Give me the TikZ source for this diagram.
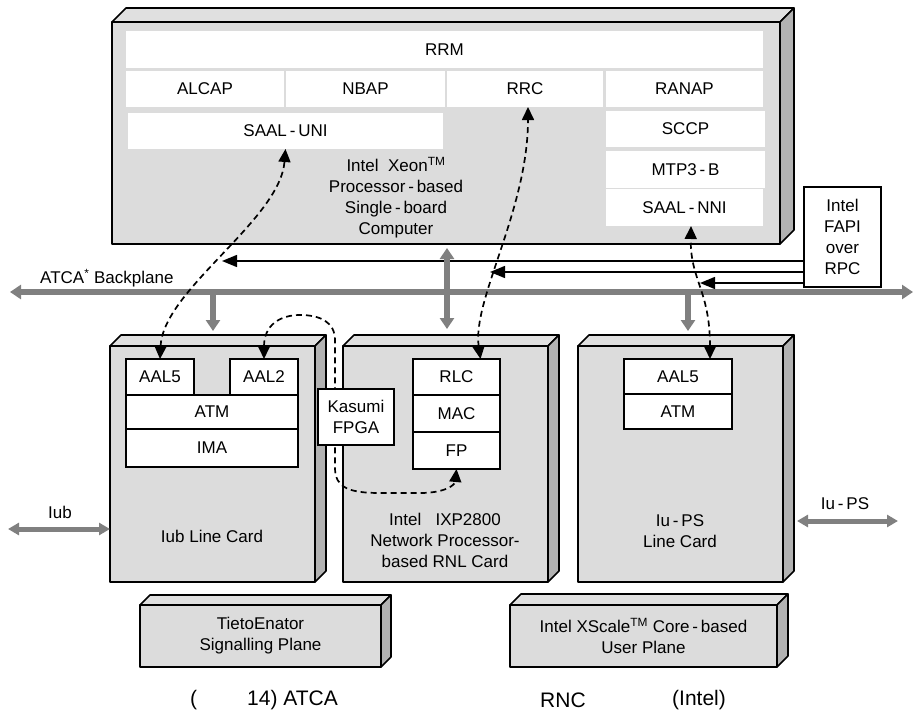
\documentclass[tikz,border=0pt]{standalone}
\usepackage{fontspec}
\setmainfont{Liberation Sans}
\usetikzlibrary{positioning, arrows.meta}

\definecolor{facegray}{HTML}{DCDCDC}
\definecolor{topgray}{HTML}{E0E0E0}
\definecolor{sidegray}{HTML}{B2B2B2}
\definecolor{linkgray}{HTML}{808080}

\tikzset{
  rim/.style={line width=1.6pt, line join=round},
  face/.style={rim, draw, fill=facegray, inner sep=0pt, outer sep=0pt},
  layer/.style={fill=white, inner sep=0pt, outer sep=0pt},
  cell/.style={draw, line width=1.4pt, fill=white, inner sep=0pt, outer sep=0pt},
  txt/.style={align=center, inner sep=0pt},
  bus/.style={draw=linkgray, line width=6pt, {Triangle[length=11pt,width=14pt]}-{Triangle[length=11pt,width=14pt]}},
  drop/.style={draw=linkgray, line width=6pt, -{Triangle[length=11pt,width=14pt]}},
  sidelink/.style={draw=linkgray, line width=5pt, {Triangle[length=11pt,width=12pt]}-{Triangle[length=11pt,width=12pt]}},
  ctrl/.style={line width=1.4pt, -{Triangle[length=15pt,width=12pt]}},
  sig/.style={line width=1.7pt, dash pattern=on 6pt off 4pt, {Triangle[length=13pt,width=12pt]}-{Triangle[length=13pt,width=12pt]}}
}

\begin{document}
\begin{tikzpicture}[x=1pt, y=-1pt, every node/.style={font=\fontsize{17}{21}\selectfont}]

        \useasboundingbox (0,0) rectangle (914,715);

        \newcommand{\bevelbox}[2]{%
            \draw[rim, fill=topgray] (#1.north west) -- ++(#2,-#2) -- ([shift={(#2,-#2)}]#1.north east) -- (#1.north east) -- cycle;
            \draw[rim, fill=sidegray] (#1.north east) -- ++(#2,-#2) -- ([shift={(#2,-#2)}]#1.south east) -- (#1.south east) -- cycle;
        }

        \node[face, minimum width=668, minimum height=222] (sbc) at (446,133) {};
        \bevelbox{sbc}{14}

        \node[layer, minimum width=637, minimum height=37] (rrm) at (444.5,49.5) {RRM};
        \node[layer, minimum width=158, minimum height=36] (alcap) at (205,89) {ALCAP};
        \node[layer, minimum width=159, minimum height=36] (nbap) at (365.5,89) {NBAP};
        \node[layer, minimum width=156, minimum height=36] (rrc) at (525,89) {RRC};
        \node[layer, minimum width=157, minimum height=36] (ranap) at (684.5,89) {RANAP};
        \node[layer, minimum width=315, minimum height=36] (saaluni) at (285.5,131) {SAAL\,-\,UNI};
        \node[layer, minimum width=159, minimum height=36] (sccp) at (685.5,129) {SCCP};
        \node[layer, minimum width=159, minimum height=37] (mtp) at (685.5,169.5) {MTP3\,-\,B};
        \node[layer, minimum width=157, minimum height=37] (saalnni) at (684.5,207.5) {SAAL\,-\,NNI};

        \node[txt] (xeon) at (396,198) {Intel\ \ Xeon\textsuperscript{TM}\\Processor\,-\,based\\Single\,-\,board\\Computer};

        \node[draw, line width=1.2pt, fill=white, txt, minimum width=77, minimum height=100] (fapi) at (842.5,237) {Intel\\FAPI\\over\\RPC};

        \coordinate (bpL) at (10,292);
        \coordinate (bpR) at (913,292);
        \draw[bus] (bpL) -- (bpR);
        \node[txt, anchor=west] (atca) at (40,278) {ATCA\textsuperscript{*} Backplane};

        \coordinate (cA) at (222,261);
        \coordinate (cB) at (490,272);
        \coordinate (cC) at (700,283);
        \draw[ctrl] (fapi.west |- cA) -- (cA);
        \draw[ctrl] (fapi.west |- cB) -- (cB);
        \draw[ctrl] (fapi.west |- cC) -- (cC);

        \node[face, minimum width=205, minimum height=236] (iubcard) at (212.5,464) {};
        \bevelbox{iubcard}{11}
        \node[face, minimum width=205, minimum height=236] (rnlcard) at (445.5,464) {};
        \bevelbox{rnlcard}{11}
        \node[face, minimum width=205, minimum height=236] (iupscard) at (680.5,464) {};
        \bevelbox{iupscard}{11}

        \coordinate (tapA) at (213,295);
        \coordinate (slotA) at (213,331);
        \coordinate (tapB) at (447,248);
        \coordinate (slotB) at (447,329);
        \coordinate (tapC) at (688,295);
        \coordinate (slotC) at (688,331);
        \draw[drop] (tapA) -- (slotA);
        \draw[bus] (tapB) -- (slotB);
        \draw[drop] (tapC) -- (slotC);

        \node[cell, minimum width=68, minimum height=36] (aal5i) at (160,377) {AAL5};
        \node[cell, minimum width=68, minimum height=36] (aal2) at (264,377) {AAL2};
        \node[cell, minimum width=172, minimum height=34, anchor=north west] (atmi) at (aal5i.south west) {ATM};
        \node[cell, minimum width=172, minimum height=38, below=0pt of atmi] (ima) {IMA};

        \node[cell, minimum width=87, minimum height=36] (rlc) at (456.5,377) {RLC};
        \node[cell, minimum width=87, minimum height=37, below=0pt of rlc] (mac) {MAC};
        \node[cell, minimum width=87, minimum height=37, below=0pt of mac] (fp) {FP};

        \node[cell, minimum width=108, minimum height=35] (aal5u) at (678,376.5) {AAL5};
        \node[cell, minimum width=108, minimum height=35, below=0pt of aal5u] (atmu) {ATM};

        \node[txt] (iubtxt) at (212,536) {Iub Line Card};
        \node[txt] (rnltxt) at (445,540) {Intel\ \ \ IXP2800\\Network Processor-\\based RNL Card};
        \node[txt] (iupstxt) at (680,531) {Iu\,-\,PS\\Line Card};

        \coordinate (iubend) at (8,529);
        \draw[sidelink] (iubend) -- (iubcard.west |- iubend);
        \node[txt] (iublbl) at (60,512) {Iub};
        \coordinate (iupsin) at (797,521);
        \coordinate (iupsend) at (898,521);
        \draw[sidelink] (iupsin) -- (iupsend);
        \node[txt] (iupslbl) at (845,504) {Iu\,-\,PS};

        \draw[sig] (aal5i.north) .. controls (163,290) and (280,220) .. (saaluni.south);
        \draw[sig] (aal2.north) .. controls (264,325) and (280,315) .. (300,315) .. controls (320,315) and (335,322) .. (335,340) -- (335,468) .. controls (335,488) and (350,493) .. (380,493) -- (420,493) .. controls (445,493) and (455,485) .. (fp.south);
        \draw[sig] ([xshift=24pt]rlc.north) .. controls (472,300) and (528,210) .. ([xshift=3pt]rrc.south);
        \draw[sig] ([xshift=32pt]aal5u.north) .. controls (710,290) and (690,280) .. ([xshift=6.5pt]saalnni.south);

        \node[cell, txt, line width=1.3pt, minimum width=76, minimum height=56] (kasumi) at (356,417) {Kasumi\\FPGA};

        \node[face, txt, minimum width=241, minimum height=62] (tieto) at (260.5,636) {TietoEnator\\Signalling Plane};
        \bevelbox{tieto}{10}
        \node[face, txt, minimum width=267, minimum height=62] (xscale) at (643.5,636) {Intel XScale\textsuperscript{TM} Core\,-\,based\\User Plane};
        \bevelbox{xscale}{11}

        \node[txt, anchor=west, font=\fontsize{21}{25}\selectfont] (cap1) at (190,700) {(};
        \node[txt, anchor=west, font=\fontsize{21}{25}\selectfont] (cap2) at (247,700) {14) ATCA};
        \node[txt, anchor=west, font=\fontsize{21}{25}\selectfont] (cap3) at (540,700) {RNC};
        \node[txt, anchor=west, font=\fontsize{21}{25}\selectfont] (cap4) at (672,700) {(Intel)};
    \end{tikzpicture}
\end{document}
